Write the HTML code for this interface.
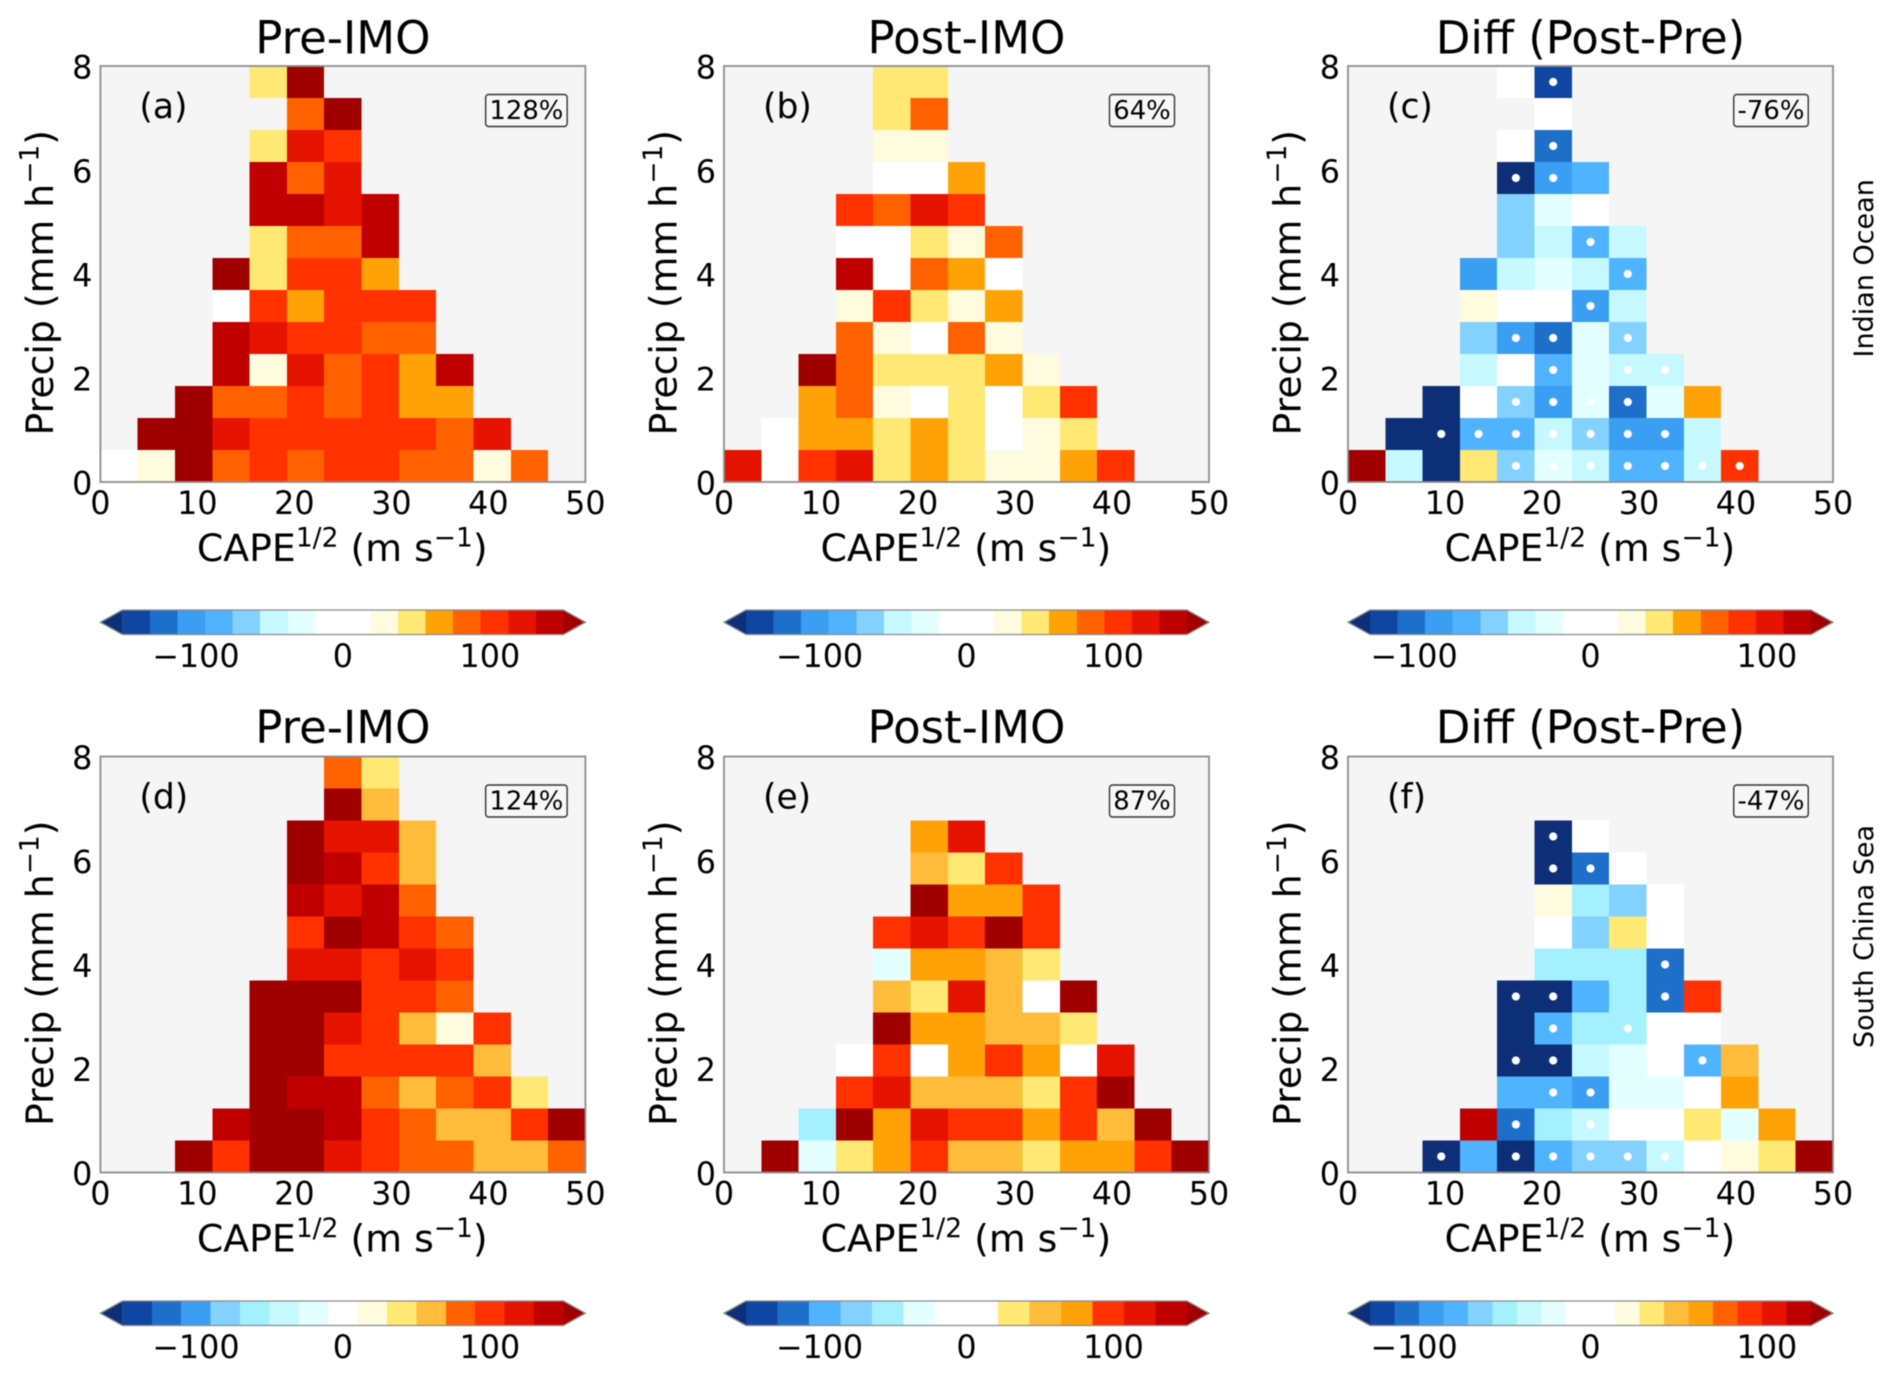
<!DOCTYPE html>
<html lang="en">
<head>
<meta charset="utf-8">
<title>Precipitation vs CAPE heatmaps, Pre-IMO and Post-IMO</title>
<style>
  html, body { margin: 0; padding: 0; background: #ffffff; }
  #figure { display: block; width: 1892px; height: 1376px; font-family: "DejaVu Sans", "Liberation Sans", sans-serif; fill: #000000; filter: blur(0.55px); }
  .cell { shape-rendering: crispEdges; }
</style>
</head>
<body>
<svg id="figure" xmlns="http://www.w3.org/2000/svg" width="1892" height="1376" viewBox="0 0 1892 1376"></svg>
<script>
const _ = null;

/* Axis tick labels */
const xTickValues = [0, 10, 20, 30, 40, 50];
const yTickValues = [0, 2, 4, 6, 8];
const colorbarTickValues = [-100, 0, 100];

/* Each grid: 13 rows listed from the top bin (y=8) down to the bottom bin (y=0), 13 CAPE bins per row */
const panelAValues = [
  [_,_,_,_,47,160],
  [_,_,_,_,_,84,160],
  [_,_,_,_,47,122,103],
  [_,_,_,_,141,84,122],
  [_,_,_,_,141,141,122,141],
  [_,_,_,_,47,84,84,141],
  [_,_,_,160,47,103,103,66],
  [_,_,_,9,103,66,103,103,103],
  [_,_,_,141,122,103,103,84,84],
  [_,_,_,141,28,122,84,103,66,141],
  [_,_,160,84,84,103,84,103,66,66],
  [_,160,160,122,103,103,103,103,103,84,122],
  [9,28,160,84,103,84,103,103,84,84,28,84]
];
const panelBValues = [
  [_,_,_,_,47,47],
  [_,_,_,_,47,84],
  [_,_,_,_,28,28],
  [_,_,_,_,9,9,66],
  [_,_,_,103,84,122,103],
  [_,_,_,9,9,47,28,84],
  [_,_,_,141,9,84,66,9],
  [_,_,_,28,103,47,28,66],
  [_,_,_,84,28,9,84,28],
  [_,_,160,84,47,47,47,66,28],
  [_,_,66,84,28,9,47,9,47,103],
  [_,9,66,66,47,66,47,9,28,47],
  [122,9,103,122,47,66,47,28,28,66,103]
];
const panelCValues = [
  [_,_,_,_,8,-117],
  [_,_,_,_,_,8],
  [_,_,_,_,8,-102],
  [_,_,_,_,-135,-86,-70],
  [_,_,_,_,-55,-23,8],
  [_,_,_,_,-55,-39,-70,-39],
  [_,_,_,-86,-39,-23,-39,-70],
  [_,_,_,23,8,8,-86,-39],
  [_,_,_,-55,-86,-102,-23,-55],
  [_,_,_,-39,8,-70,-23,-39,-39],
  [_,_,-135,8,-55,-86,-23,-102,-23,55],
  [_,-135,-135,-70,-70,-39,-55,-86,-86,-39],
  [135,-39,-135,39,-55,-23,-39,-70,-70,-39,86]
];
const panelDValues = [
  [_,_,_,_,_,_,80,40],
  [_,_,_,_,_,_,160,60],
  [_,_,_,_,_,160,120,120,60],
  [_,_,_,_,_,160,140,100,60],
  [_,_,_,_,_,140,120,140,80],
  [_,_,_,_,_,100,160,140,100,80],
  [_,_,_,_,_,120,120,100,120,100],
  [_,_,_,_,160,160,160,100,100,80],
  [_,_,_,_,160,160,120,100,60,20,100],
  [_,_,_,_,160,160,100,100,100,100,60],
  [_,_,_,_,160,140,140,80,60,80,100,40],
  [_,_,_,140,160,160,140,100,80,60,60,100,160],
  [_,_,160,100,160,160,120,100,80,80,60,60,80]
];
const panelEValues = [
  [],
  [],
  [_,_,_,_,_,75,118],
  [_,_,_,_,_,54,32,96],
  [_,_,_,_,_,160,75,75,96],
  [_,_,_,_,96,118,96,160,96],
  [_,_,_,_,-32,75,75,54,32],
  [_,_,_,_,54,32,118,54,11,160],
  [_,_,_,_,160,75,75,54,54,32],
  [_,_,_,11,96,11,75,96,75,11,118],
  [_,_,_,96,118,54,54,54,32,96,160],
  [_,_,-54,160,75,118,96,96,75,96,54,160],
  [_,160,-32,32,75,96,54,54,32,75,75,96,160]
];
const panelFValues = [
  [],
  [],
  [_,_,_,_,_,-135,7],
  [_,_,_,_,_,-135,-104,7],
  [_,_,_,_,_,21,-49,-62,7],
  [_,_,_,_,_,7,-62,35,7],
  [_,_,_,_,_,-49,-49,-49,-104],
  [_,_,_,_,-135,-135,-76,-49,-104,90],
  [_,_,_,_,-135,-76,-49,-49,7,7],
  [_,_,_,_,-135,-135,-35,-21,7,-76,49],
  [_,_,_,_,-76,-76,-90,-21,-21,7,62],
  [_,_,_,118,-104,-49,-35,7,7,35,-21,62],
  [_,_,-135,-76,-135,-76,-62,-62,-35,7,21,35,135]
];

/* Significant bins, as [CAPE bin index, precip bin index from the bottom] */
const panelCSignificant = [[5,12],[5,10],[4,9],[5,9],[6,7],[7,6],[6,5],[4,4],[5,4],[7,4],[5,3],[7,3],[8,3],[4,2],[5,2],[6,2],[7,2],[2,1],[3,1],[4,1],[5,1],[6,1],[7,1],[8,1],[4,0],[5,0],[6,0],[7,0],[8,0],[9,0],[10,0]];
const panelFSignificant = [[5,10],[5,9],[6,9],[8,6],[4,5],[5,5],[8,5],[5,4],[7,4],[4,3],[5,3],[9,3],[5,2],[6,2],[4,1],[6,1],[2,0],[4,0],[5,0],[6,0],[7,0],[8,0]];

/* Colormaps, low to high */
const paletteSixteen = ['#0f46a3','#1e6fca','#3a9ef2','#4fb3ff','#82d1ff','#c5f9ff','#e3ffff','#ffffff','#ffffff','#fffbdf','#ffe873','#ffa208','#ff6100','#ff3100','#e61300','#c00000'];
const paletteFifteen = ['#0f46a3','#1e6fca','#3a9ef2','#82d1ff','#a5f0ff','#c5f9ff','#e3ffff','#ffffff','#fffbdf','#ffe873','#ffbc3b','#ff6100','#ff3100','#e61300','#c00000'];
const paletteFourteen = ['#0f46a3','#1e6fca','#4fb3ff','#82d1ff','#a5f0ff','#e3ffff','#ffffff','#ffffff','#ffe873','#ffbc3b','#ffa208','#ff3100','#e61300','#c00000'];
const paletteEighteen = ['#0f46a3','#1e6fca','#3a9ef2','#4fb3ff','#82d1ff','#a5f0ff','#c5f9ff','#e3ffff','#ffffff','#ffffff','#fffbdf','#ffe873','#ffbc3b','#ffa208','#ff6100','#ff3100','#e61300','#c00000'];
const underColor = '#0d2f77';
const overColor = '#a00000';

const SVG_NS = 'http://www.w3.org/2000/svg';
const figure = document.getElementById('figure');
const PLOT_W = 485;
const PLOT_H = 416;
const BIN_COUNT = 13;
const X_MAX = 50;
const Y_MAX = 8;
const ARROW = 22;

function make(tag, parent, attrs) {
  const el = document.createElementNS(SVG_NS, tag);
  Object.keys(attrs).forEach(function (k) { el.setAttribute(k, attrs[k]); });
  parent.appendChild(el);
  return el;
}

function colorFor(value, cb) {
  if (value < cb.min) return underColor;
  if (value > cb.max) return overColor;
  const step = (cb.max - cb.min) / cb.palette.length;
  const i = Math.min(cb.palette.length - 1, Math.floor((value - cb.min) / step));
  return cb.palette[i];
}

function drawPanel(p) {
  const g = make('g', figure, {});
  
  

  const xScale = function (v) { return p.left + v / X_MAX * PLOT_W; };
  const yScale = function (v) { return p.top + PLOT_H - v / Y_MAX * PLOT_H; };
  const binW = X_MAX / BIN_COUNT;
  const binH = Y_MAX / BIN_COUNT;

  const bg = make('rect', g, { x: p.left, y: p.top, width: PLOT_W, height: PLOT_H, fill: '#f5f5f5' });
  
  

  p.values.forEach(function (row, r) {
    const rowFromBottom = BIN_COUNT - 1 - r;
    row.forEach(function (value, c) {
      if (value === null) return;
      const x0 = xScale(c * binW);
      const x1 = xScale((c + 1) * binW);
      const y1 = yScale(rowFromBottom * binH);
      const y0 = yScale((rowFromBottom + 1) * binH);
      const cell = make('rect', g, { class: 'cell', x: x0, y: y0, width: x1 - x0, height: y1 - y0, fill: colorFor(value, p.colorbar) });
      
      
    });
  });

  (p.significant || []).forEach(function (pair) {
    const dot = make('circle', g, { cx: xScale((pair[0] + 0.5) * binW), cy: yScale((pair[1] + 0.5) * binH), r: 4.1, fill: '#ffffff' });
    
    
  });

  const frame = make('rect', g, { x: p.left, y: p.top, width: PLOT_W, height: PLOT_H, fill: 'none', stroke: '#8c8c8c', 'stroke-width': 1.8 });
  
  

  const title = make('text', g, { x: p.left + PLOT_W / 2, y: p.titleY, 'text-anchor': 'middle', 'font-size': 45 });
  title.textContent = p.title;
  
  

  xTickValues.forEach(function (v) {
    const t = make('text', g, { x: xScale(v), y: p.top + 448, 'text-anchor': 'middle', 'font-size': 31.8 });
    t.textContent = String(v);
    
    
  });
  yTickValues.forEach(function (v) {
    const t = make('text', g, { x: p.left - 8, y: yScale(v) + 12.5, 'text-anchor': 'end', 'font-size': 31.8 });
    t.textContent = String(v);
    
    
  });

  const xLabel = make('text', g, { x: p.left + 96.5, y: p.top + 495, 'font-size': 37.8 });
  xLabel.innerHTML = 'CAPE<tspan dy="-14.5" font-size="26.5">1/2</tspan><tspan dy="14.5"> (m s</tspan><tspan dy="-14.5" font-size="26.5">\u22121</tspan><tspan dy="14.5">)</tspan>';
  
  

  const yLabelY = p.top + 369.5;
  const yLabelX = p.left - 47.5;
  const yLabel = make('text', g, { x: yLabelX, y: yLabelY, 'font-size': 37.8, transform: 'rotate(-90 ' + yLabelX + ' ' + yLabelY + ')' });
  yLabel.innerHTML = 'Precip (mm h<tspan dy="-14.5" font-size="26.5">\u22121</tspan><tspan dy="14.5">)</tspan>';
  
  

  const letter = make('text', g, { x: p.left + 39, y: p.top + 52, 'font-size': 34.5 });
  letter.textContent = '(' + p.letter + ')';
  
  

  const badge = make('rect', g, { x: p.left + p.badgeCenter - p.badgeWidth / 2, y: p.top + 28.5, width: p.badgeWidth, height: 32, rx: 3, ry: 3, fill: '#f7f7f7', stroke: '#333333', 'stroke-width': 1.4 });
  
  
  const badgeText = make('text', g, { x: p.left + p.badgeCenter, y: p.top + 53, 'text-anchor': 'middle', 'font-size': 25.9 });
  badgeText.textContent = p.percent;
  
  

  drawColorbar(g, p);

  if (p.region) {
    const rx = p.left + PLOT_W + 40;
    const ry = p.top + 291.5;
    const region = make('text', g, { x: rx, y: ry, 'font-size': 27, transform: 'rotate(-90 ' + rx + ' ' + ry + ')' });
    region.textContent = p.region;
    
    
  }
}

function drawColorbar(g, p) {
  const cb = p.colorbar;
  const top = p.barTop;
  const h = 24.5;
  const bodyL = p.left + ARROW;
  const bodyW = PLOT_W - 2 * ARROW;
  const cbScale = function (v) { return bodyL + (v - cb.min) / (cb.max - cb.min) * bodyW; };
  const bar = make('g', g, {});
  
  

  const step = (cb.max - cb.min) / cb.palette.length;
  cb.palette.forEach(function (color, i) {
    const x0 = cbScale(cb.min + i * step);
    const x1 = cbScale(cb.min + (i + 1) * step);
    const seg = make('rect', bar, { class: 'cell', x: x0, y: top, width: x1 - x0, height: h, fill: color });
    
    
  });
  const under = make('polygon', bar, { points: p.left + ',' + (top + h / 2) + ' ' + bodyL + ',' + top + ' ' + bodyL + ',' + (top + h), fill: underColor });
  
  
  const bodyR = bodyL + bodyW;
  const over = make('polygon', bar, { points: (p.left + PLOT_W) + ',' + (top + h / 2) + ' ' + bodyR + ',' + top + ' ' + bodyR + ',' + (top + h), fill: overColor });
  
  
  const outline = make('path', bar, {
    d: 'M' + p.left + ' ' + (top + h / 2) + 'L' + bodyL + ' ' + top + 'H' + bodyR + 'L' + (p.left + PLOT_W) + ' ' + (top + h / 2) + 'L' + bodyR + ' ' + (top + h) + 'H' + bodyL + 'Z',
    fill: 'none', stroke: '#8c8c8c', 'stroke-width': 1.3
  });
  
  

  colorbarTickValues.forEach(function (v) {
    const t = make('text', bar, { x: cbScale(v), y: top + 57, 'text-anchor': 'middle', 'font-size': 31.8 });
    t.textContent = v < 0 ? '\u2212' + Math.abs(v) : String(v);
    
    
  });
}

drawPanel({ letter: 'a', title: 'Pre-IMO', percent: '128%', left: 100.4, top: 66, titleY: 53.5, barTop: 610, badgeCenter: 426, badgeWidth: 81.5,
  values: panelAValues, colorbar: { min: -150, max: 150, palette: paletteSixteen } });
drawPanel({ letter: 'b', title: 'Post-IMO', percent: '64%', left: 724, top: 66, titleY: 53.5, barTop: 610, badgeCenter: 418, badgeWidth: 65,
  values: panelBValues, colorbar: { min: -150, max: 150, palette: paletteSixteen } });
drawPanel({ letter: 'c', title: 'Diff (Post-Pre)', percent: '-76%', left: 1348, top: 66, titleY: 53.5, barTop: 610, badgeCenter: 423, badgeWidth: 74.5,
  values: panelCValues, significant: panelCSignificant, region: 'Indian Ocean', colorbar: { min: -125, max: 125, palette: paletteSixteen } });
drawPanel({ letter: 'd', title: 'Pre-IMO', percent: '124%', left: 100.4, top: 756.5, titleY: 743, barTop: 1301, badgeCenter: 426, badgeWidth: 81.5,
  values: panelDValues, colorbar: { min: -150, max: 150, palette: paletteFifteen } });
drawPanel({ letter: 'e', title: 'Post-IMO', percent: '87%', left: 724, top: 756.5, titleY: 743, barTop: 1301, badgeCenter: 418, badgeWidth: 65,
  values: panelEValues, colorbar: { min: -150, max: 150, palette: paletteFourteen } });
drawPanel({ letter: 'f', title: 'Diff (Post-Pre)', percent: '-47%', left: 1348, top: 756.5, titleY: 743, barTop: 1301, badgeCenter: 423, badgeWidth: 74.5,
  values: panelFValues, significant: panelFSignificant, region: 'South China Sea', colorbar: { min: -125, max: 125, palette: paletteEighteen } });
</script>
</body>
</html>
